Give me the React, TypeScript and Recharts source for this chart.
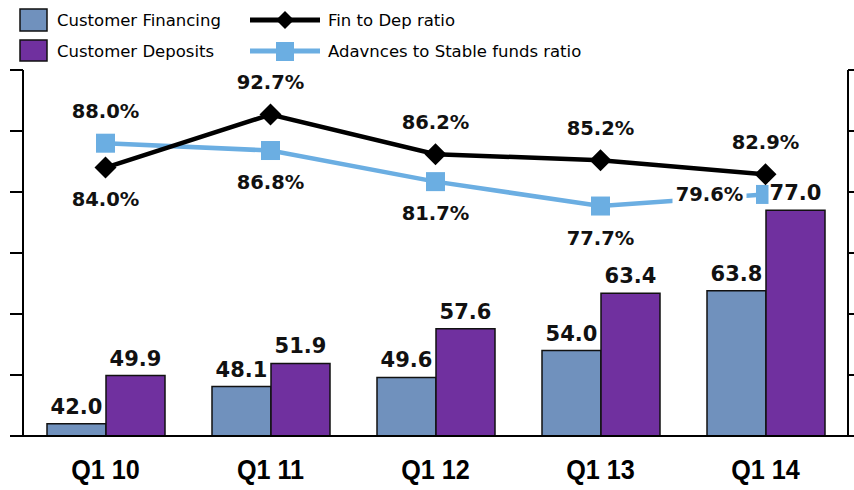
import React from 'react';
import { ComposedChart, Bar, Line, XAxis, YAxis, LabelList } from 'recharts';

const categories = ['Q1 10', 'Q1 11', 'Q1 12', 'Q1 13', 'Q1 14'];
const customerFinancing = [42.0, 48.1, 49.6, 54.0, 63.8];
const customerDeposits = [49.9, 51.9, 57.6, 63.4, 77.0];
const finToDepRatio = [84.0, 92.7, 86.2, 85.2, 82.9];
const advancesToStableRatio = [88.0, 86.8, 81.7, 77.7, 79.6];
const axisTicks = [40, 50, 60, 70, 80, 90, 100];

// label placement (style, not data)
const finLabelPos = ['below', 'above', 'above', 'above', 'above'];
const advLabelPos = ['above', 'below', 'below', 'below', 'left'];

const data = categories.map((c, i) => ({
  cat: c,
  fin: customerFinancing[i],
  dep: customerDeposits[i],
  ftd: finToDepRatio[i],
  adv: advancesToStableRatio[i],
}));

const BLUE_BAR = '#7091BD';
const PURPLE_BAR = '#70309F';
const LIGHT_BLUE = '#6BAEE2';
const LABEL_FONT = '"DejaVu Sans", Verdana, sans-serif';

const makeLineLabel = (positions: string[]) => (props: any) => {
  const { x, y, value, index } = props;
  const pos = positions[index];
  let cx = x;
  let cy = y;
  if (pos === 'above') cy = y - 32;
  else if (pos === 'below') cy = y + 32;
  else if (pos === 'left') cx = x - 56;
  const txt = `${Number(value).toFixed(1)}%`;
  return (
    <g>
      <rect x={cx - 37} y={cy - 11} width={74} height={22} fill="#fff" />
      <text
        x={cx}
        y={cy}
        textAnchor="middle"
        dominantBaseline="central"
        fontFamily={LABEL_FONT}
        fontWeight="bold"
        fontSize={19.5}
        fill="#111"
      >
        {txt}
      </text>
    </g>
  );
};

const BarLabel = (props: any) => {
  const { x, y, width, value } = props;
  const cx = x + width / 2;
  const cy = y - 17;
  return (
    <g>
      <rect x={cx - 27} y={cy - 11} width={54} height={22} fill="#fff" />
      <text
        x={cx}
        y={cy}
        textAnchor="middle"
        dominantBaseline="central"
        fontFamily={LABEL_FONT}
        fontWeight="bold"
        fontSize={21}
        fill="#111"
      >
        {Number(value).toFixed(1)}
      </text>
    </g>
  );
};

const Diamond = (props: any) => {
  const { cx, cy } = props;
  if (cx == null || cy == null) return null;
  const r = 11;
  return <path d={`M${cx},${cy - r}L${cx + r},${cy}L${cx},${cy + r}L${cx - r},${cy}Z`} fill="#000" />;
};

const Square = (props: any) => {
  const { cx, cy } = props;
  if (cx == null || cy == null) return null;
  const s = 19;
  return <rect x={cx - s / 2} y={cy - s / 2} width={s} height={s} fill={LIGHT_BLUE} />;
};

const EmptyTick = () => <g />;

const CatTick = (props: any) => {
  const { x, y, payload } = props;
  return (
    <text
      transform={`translate(${x},${y + 34}) scale(0.9,1)`}
      x={0}
      y={0}
      textAnchor="middle"
      dominantBaseline="central"
      fontFamily='"Liberation Sans", Arial, sans-serif'
      fontWeight="bold"
      fontSize={28}
      fill="#000"
    >
      {payload.value}
    </text>
  );
};

const legendFont = '"DejaVu Sans", Tahoma, sans-serif';

const Legend = () => (
  <svg
    width={854}
    height={68}
    style={{ position: 'absolute', left: 0, top: 0, pointerEvents: 'none' }}
  >
    <rect x={20} y={9} width={27} height={22} fill={BLUE_BAR} stroke="#111" strokeWidth={1.5} />
    <text x={57} y={20} dominantBaseline="central" fontFamily={legendFont} fontSize={16.5} fill="#000">
      Customer Financing
    </text>
    <rect x={20} y={40} width={27} height={21} fill={PURPLE_BAR} stroke="#111" strokeWidth={1.5} />
    <text x={57} y={51} dominantBaseline="central" fontFamily={legendFont} fontSize={16.5} fill="#000">
      Customer Deposits
    </text>
    <line x1={250} y1={20} x2={320} y2={20} stroke="#000" strokeWidth={5} />
    <path d="M285,11L294,20L285,29L276,20Z" fill="#000" />
    <text x={328} y={20} dominantBaseline="central" fontFamily={legendFont} fontSize={16.5} fill="#000">
      Fin to Dep ratio
    </text>
    <line x1={250} y1={51} x2={320} y2={51} stroke={LIGHT_BLUE} strokeWidth={5} />
    <rect x={276} y={42} width={18} height={19} fill={LIGHT_BLUE} />
    <text x={328} y={51} dominantBaseline="central" fontFamily={legendFont} fontSize={16.5} fill="#000">
      Adavnces to Stable funds ratio
    </text>
  </svg>
);

export default function App() {
  return (
    <div style={{ position: 'absolute', left: 0, top: 0, width: 854, height: 490, background: '#fff' }}>
      <ComposedChart
        width={854}
        height={490}
        data={data}
        margin={{ top: 70, right: 0, bottom: 0, left: 0 }}
        barGap={0}
      >
        <XAxis
          dataKey="cat"
          height={54}
          axisLine={{ stroke: '#000', strokeWidth: 2 }}
          tickLine={false}
          tickSize={0}
          tickMargin={0}
          tick={<CatTick />}
          interval={0}
        />
        <YAxis
          yAxisId="left"
          width={23}
          domain={[40, 100]}
          ticks={axisTicks}
          tick={<EmptyTick />}
          tickSize={13}
          axisLine={{ stroke: '#000', strokeWidth: 2 }}
          tickLine={{ stroke: '#000', strokeWidth: 2 }}
        />
        <YAxis
          yAxisId="right"
          orientation="right"
          width={6}
          domain={[40, 100]}
          ticks={axisTicks}
          tick={<EmptyTick />}
          tickSize={12}
          axisLine={{ stroke: '#000', strokeWidth: 2 }}
          tickLine={{ stroke: '#000', strokeWidth: 2 }}
        />
        <Line
          yAxisId="right"
          dataKey="adv"
          stroke={LIGHT_BLUE}
          strokeWidth={4.5}
          dot={<Square />}
          isAnimationActive={false}
        >
          <LabelList dataKey="adv" content={makeLineLabel(advLabelPos)} />
        </Line>
        <Line
          yAxisId="right"
          dataKey="ftd"
          stroke="#000"
          strokeWidth={4.5}
          dot={<Diamond />}
          isAnimationActive={false}
        >
          <LabelList dataKey="ftd" content={makeLineLabel(finLabelPos)} />
        </Line>
        <Bar
          yAxisId="left"
          dataKey="fin"
          fill={BLUE_BAR}
          stroke="#111"
          strokeWidth={1.5}
          barSize={59}
          isAnimationActive={false}
        >
          <LabelList dataKey="fin" content={BarLabel} />
        </Bar>
        <Bar
          yAxisId="left"
          dataKey="dep"
          fill={PURPLE_BAR}
          stroke="#111"
          strokeWidth={1.5}
          barSize={59}
          isAnimationActive={false}
        >
          <LabelList dataKey="dep" content={BarLabel} />
        </Bar>
      </ComposedChart>
      <Legend />
    </div>
  );
}
